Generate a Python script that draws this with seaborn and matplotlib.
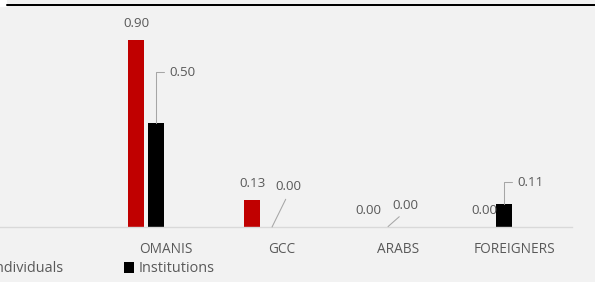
import matplotlib
matplotlib.use("Agg")
import matplotlib.pyplot as plt
import seaborn as sns
import pandas as pd
from matplotlib.lines import Line2D
from matplotlib.patches import Rectangle, Patch

# ---- data ----
categories = ["OMANIS", "GCC", "ARABS", "FOREIGNERS"]
individuals = [0.90, 0.13, 0.00, 0.002]
institutions = [0.50, 0.00, 0.002, 0.11]
visible_series = ["Individuals", "Institutions"]
hidden_series = ["Series 3", "Series 4"]  # empty series that reserve space in each group

# ---- styles ----
BG = "#F2F2F2"
RED = "#C00000"
BLACK = "#000000"
TXT = "#595959"
AXIS = "#D9D9D9"
LEADER = "#A6A6A6"
W, H = 595, 282
PT = 0.72  # points per pixel at dpi 100

sns.set_style("white")
plt.rcParams["font.family"] = ["Open Sans", "DejaVu Sans"]

df = pd.DataFrame({
    "category": categories * 2,
    "value": individuals + institutions,
    "series": [visible_series[0]] * len(categories) + [visible_series[1]] * len(categories),
})
hue_order = visible_series + hidden_series
palette = {visible_series[0]: RED, visible_series[1]: BLACK,
           hidden_series[0]: "#808080", hidden_series[1]: "#A0A0A0"}

fig = plt.figure(figsize=(W / 100, H / 100), dpi=100, facecolor=BG)
ax = fig.add_axes([-8 / W, 1 - 227 / H, 580 / W, 207 / H])
ax.set_facecolor("none")

sns.barplot(data=df, x="category", y="value", hue="series", order=categories,
            hue_order=hue_order, palette=palette, width=0.686, gap=0.166,
            saturation=1, linewidth=0, legend=False, ax=ax)

ax.set_xlim(-1.5, 3.5)
ax.set_ylim(0, 0.996)
ax.set_xlabel("")
ax.set_ylabel("")
ax.set_yticks([])
ax.set_xticks(range(len(categories)))
ax.set_xticklabels(categories, fontsize=9.8, color=TXT)
ax.tick_params(axis="x", length=0, pad=10.5)
for s in ["top", "left", "right"]:
    ax.spines[s].set_visible(False)
ax.spines["bottom"].set_color(AXIS)
ax.spines["bottom"].set_linewidth(1.0)

# ---- data labels ----
# per-category label placement for Institutions (pixel offsets from bar top, style)
inst_label_style = [
    ("elbow", 13, 51),
    ("diag", 16.5, 40),
    ("diag", 17, 21.5),
    ("elbow", 13, 22),
]

containers = ax.containers
for ci, cont in enumerate(containers[:2]):
    for patch in cont.patches:
        cx = patch.get_x() + patch.get_width() / 2
        idx = int(round(cx))
        val = (individuals if ci == 0 else institutions)[idx]
        top = patch.get_height()
        label = f"{val:.2f}"
        if ci == 0:
            ax.annotate(label, xy=(cx, top), xytext=(0, 10 * PT), textcoords="offset points",
                        ha="center", va="bottom", fontsize=9.6, color=TXT, annotation_clip=False)
        else:
            style, dx, dy = inst_label_style[idx]
            if style == "elbow":
                ax.annotate(label, xy=(cx, top), xytext=(dx * PT, dy * PT), textcoords="offset points",
                            ha="left", va="center", fontsize=9.6, color=TXT, annotation_clip=False,
                            arrowprops=dict(arrowstyle="-", color=LEADER, lw=0.75,
                                            connectionstyle="angle,angleA=0,angleB=90,rad=0",
                                            relpos=(0, 0.5), shrinkA=1.5, shrinkB=0))
            else:
                ax.annotate(label, xy=(cx, top), xytext=(dx * PT, dy * PT), textcoords="offset points",
                            ha="center", va="center", fontsize=9.6, color=TXT, annotation_clip=False,
                            arrowprops=dict(arrowstyle="-", color=LEADER, lw=0.75,
                                            relpos=(0.5, 0), shrinkA=2, shrinkB=0))

# ---- legend ----
handles = [Patch(facecolor=RED, edgecolor="none", label=visible_series[0]),
           Patch(facecolor=BLACK, edgecolor="none", label=visible_series[1])]
fig.legend(handles=handles, loc="center left", bbox_to_anchor=(-23 / W, 1 - 269 / H),
           ncol=2, frameon=False, handlelength=0.7, handleheight=0.7, handletextpad=0.3,
           columnspacing=4.2, borderpad=0, borderaxespad=0, fontsize=10.4, labelcolor=TXT)

# ---- decorations: top border line and white corner ----
fig.add_artist(Rectangle((0, 1 - 7 / H), 7 / W, 7 / H, transform=fig.transFigure,
                         facecolor="white", edgecolor="none"))
fig.add_artist(Line2D([7 / W, 1], [1 - 5 / H, 1 - 5 / H], transform=fig.transFigure,
                      color="black", lw=2 * PT))

fig.savefig("out.png", dpi=100, facecolor=fig.get_facecolor())
